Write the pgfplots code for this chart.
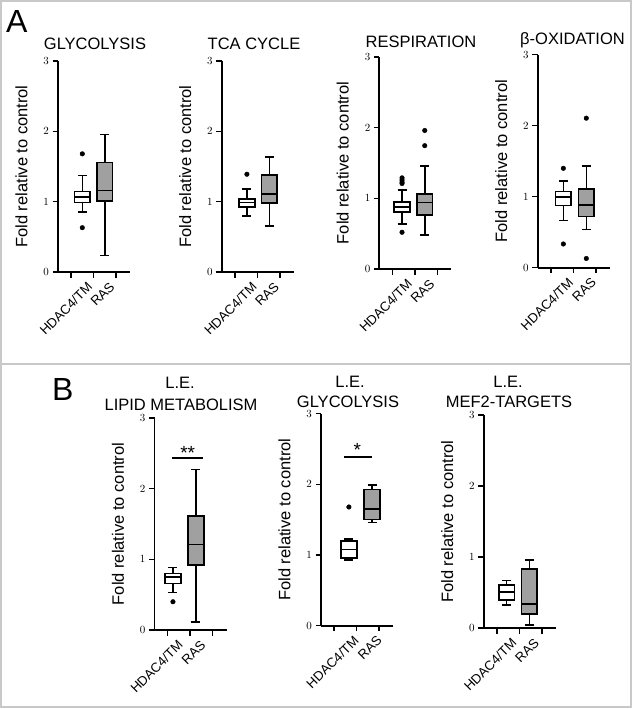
\documentclass[border=0pt]{standalone}
\usepackage{fontspec}
\setmainfont{Liberation Sans}
\usepackage{pgfplots}
\pgfplotsset{compat=1.18}
\usepgfplotslibrary{statistics}
\definecolor{boxgray}{RGB}{160,160,160}
\definecolor{framegray}{RGB}{200,200,200}
\newcommand{\tfont}{\fontsize{16.5}{19}\selectfont}
\newcommand{\xtfont}{\fontsize{13.2}{15}\selectfont}
\newcommand{\catlabels}[2]{%
  \node[rotate=45, anchor=north east, font=\xtfont, inner sep=0pt] at ([xshift=4pt,yshift=-9pt]axis cs:#1,0) {HDAC4/TM};
  \node[rotate=45, anchor=north east, font=\xtfont, inner sep=0pt] at ([xshift=4pt,yshift=-9pt]axis cs:#2,0) {RAS};
}
\pgfplotsset{
  panel/.style={
    scale only axis, width=72pt, anchor=south west,
    xmin=-0.08, xmax=3.12, ymin=0, ymax=3,
    axis x line*=bottom, axis y line*=left,
    axis line style={line width=1.8pt, -},
    xtick={0.5,1.5,2.5}, xticklabels={},
    ytick={0,1,2,3},
    tick align=outside, major tick length=5.5pt,
    tick style={black, line width=1.5pt},
    yticklabel style={font=\fontsize{10.5}{12}\selectfont},
    clip=false,
    boxplot/draw direction=y,
  },
  hbox/.style={boxplot prepared={#1}, draw=black, line width=1.6pt, fill=white,
    mark=*, mark size=2.3pt, mark options={fill=black, draw=black, line width=0.4pt},
    boxplot/box extend=0.7, boxplot/whisker extend=0.4},
  rbox/.style={boxplot prepared={#1}, draw=black, line width=1.6pt, fill=boxgray,
    mark=*, mark size=2.3pt, mark options={fill=black, draw=black, line width=0.4pt},
    boxplot/box extend=0.7, boxplot/whisker extend=0.4},
}
\begin{document}
\begin{tikzpicture}
\useasboundingbox (0pt,0pt) rectangle (634pt,-709pt);
\draw[framegray, line width=1.5pt] (1pt,-1pt) rectangle (631pt,-707pt);
\draw[framegray, line width=1.5pt] (1pt,-364pt) -- (631pt,-364pt);

\node[anchor=base west, font=\fontsize{32}{34}\selectfont, inner sep=0pt] at (6pt,-33pt) {A};
\node[anchor=base west, font=\fontsize{32}{34}\selectfont, inner sep=0pt] at (52pt,-400pt) {B};

% titles
\node[anchor=base, font=\tfont, inner sep=0pt] at (95pt,-49pt) {GLYCOLYSIS};
\node[anchor=base, font=\tfont, inner sep=0pt] at (254pt,-49pt) {TCA CYCLE};
\node[anchor=base, font=\tfont, inner sep=0pt] at (421pt,-48pt) {RESPIRATION};
\node[anchor=base, font=\tfont, inner sep=0pt] at (572.5pt,-45pt) {β-OXIDATION};
\node[anchor=base, font=\tfont, inner sep=0pt] at (180pt,-388.3pt) {L.E.};
\node[anchor=base, font=\tfont, inner sep=0pt] at (181pt,-410pt) {LIPID METABOLISM};
\node[anchor=base, font=\tfont, inner sep=0pt] at (350pt,-387pt) {L.E.};
\node[anchor=base, font=\tfont, inner sep=0pt] at (348pt,-407pt) {GLYCOLYSIS};
\node[anchor=base, font=\tfont, inner sep=0pt] at (508pt,-387pt) {L.E.};
\node[anchor=base, font=\tfont, inner sep=0pt] at (509pt,-407pt) {MEF2-TARGETS};

% y labels
\foreach \lx/\ly in {21.5/166.5, 185.2/166.5, 342.8/163, 501.2/161.2, 118/524, 284.5/519.7, 447.2/521.5}{
  \node[rotate=90, font=\tfont, inner sep=0pt] at (\lx pt,-\ly pt) {Fold relative to control};
}

% A1 GLYCOLYSIS
\begin{axis}[panel, at={(58pt,-272pt)}, height=211pt]
\addplot[hbox={draw position=1, lower whisker=0.855, lower quartile=0.99, median=1.063, upper quartile=1.143, upper whisker=1.37}]
  table[row sep=\\, y index=0] {data\\ 1.68\\ 0.63\\};
\addplot[rbox={draw position=2, lower whisker=0.236, lower quartile=1.006, median=1.157, upper quartile=1.555, upper whisker=1.955}]
  coordinates {};
\catlabels{1}{2}
\end{axis}

% A2 TCA CYCLE
\begin{axis}[panel, at={(221.7pt,-272pt)}, height=211pt]
\addplot[hbox={draw position=1.04, lower whisker=0.80, lower quartile=0.92, median=0.99, upper quartile=1.034, upper whisker=1.18}]
  table[row sep=\\, y index=0] {data\\ 1.39\\};
\addplot[rbox={draw position=2.04, lower whisker=0.652, lower quartile=0.978, median=1.105, upper quartile=1.38, upper whisker=1.634}]
  coordinates {};
\catlabels{1.04}{2.04}
\end{axis}

% A3 RESPIRATION
\begin{axis}[panel, at={(379.3pt,-269pt)}, height=212pt]
\addplot[hbox={draw position=0.93, lower whisker=0.637, lower quartile=0.807, median=0.877, upper quartile=0.948, upper whisker=1.12}]
  table[row sep=\\, y index=0] {data\\ 0.52\\ 1.21\\ 1.23\\ 1.26\\ 1.29\\};
\addplot[rbox={draw position=1.94, lower whisker=0.48, lower quartile=0.76, median=0.943, upper quartile=1.06, upper whisker=1.46}]
  table[row sep=\\, y index=0] {data\\ 1.745\\ 1.96\\};
\catlabels{0.93}{1.94}
\end{axis}

% A4 beta-OXIDATION
\begin{axis}[panel, at={(537.7pt,-267.7pt)}, height=213pt]
\addplot[hbox={draw position=1.06, lower whisker=0.663, lower quartile=0.874, median=1.0, upper quartile=1.072, upper whisker=1.222}]
  table[row sep=\\, y index=0] {data\\ 1.40\\ 0.334\\};
\addplot[rbox={draw position=2.08, lower whisker=0.54, lower quartile=0.72, median=0.879, upper quartile=1.11, upper whisker=1.434}]
  table[row sep=\\, y index=0] {data\\ 2.106\\ 0.13\\};
\catlabels{1.06}{2.08}
\end{axis}

% B1 LIPID METABOLISM
\begin{axis}[panel, at={(154.5pt,-630pt)}, height=212pt]
\addplot[hbox={draw position=0.74, lower whisker=0.53, lower quartile=0.66, median=0.753, upper quartile=0.80, upper whisker=0.885}]
  table[row sep=\\, y index=0] {data\\ 0.40\\};
\addplot[rbox={draw position=1.76, lower whisker=0.113, lower quartile=0.918, median=1.21, upper quartile=1.616, upper whisker=2.27}]
  coordinates {};
\addplot[black, line width=1.5pt] coordinates {(0.70,2.435) (2.08,2.435)};
\node[anchor=north, inner sep=0pt, font=\fontsize{19}{20}\selectfont] at (axis cs:1.396,2.60) {**};
\catlabels{0.74}{1.76}
\end{axis}

% B2 L.E. GLYCOLYSIS
\begin{axis}[panel, at={(321pt,-625.7pt)}, height=212pt]
\addplot[hbox={draw position=1.16, lower whisker=0.93, lower quartile=0.958, median=1.08, upper quartile=1.20, upper whisker=1.226}]
  table[row sep=\\, y index=0] {data\\ 1.68\\};
\addplot[rbox={draw position=2.19, lower whisker=1.46, lower quartile=1.505, median=1.65, upper quartile=1.93, upper whisker=1.99}]
  coordinates {};
\addplot[black, line width=1.5pt] coordinates {(0.955,2.39) (2.20,2.39)};
\node[anchor=north, inner sep=0pt, font=\fontsize{19}{20}\selectfont] at (axis cs:1.535,2.585) {*};
\catlabels{1.16}{2.19}
\end{axis}

% B3 MEF2-TARGETS
\begin{axis}[panel, at={(483.7pt,-628pt)}, height=213pt]
\addplot[hbox={draw position=0.94, lower whisker=0.324, lower quartile=0.395, median=0.503, upper quartile=0.606, upper whisker=0.668}]
  coordinates {};
\addplot[rbox={draw position=1.95, lower whisker=0.04, lower quartile=0.197, median=0.338, upper quartile=0.832, upper whisker=0.96}]
  coordinates {};
\catlabels{0.94}{1.95}
\end{axis}
\end{tikzpicture}
\end{document}
